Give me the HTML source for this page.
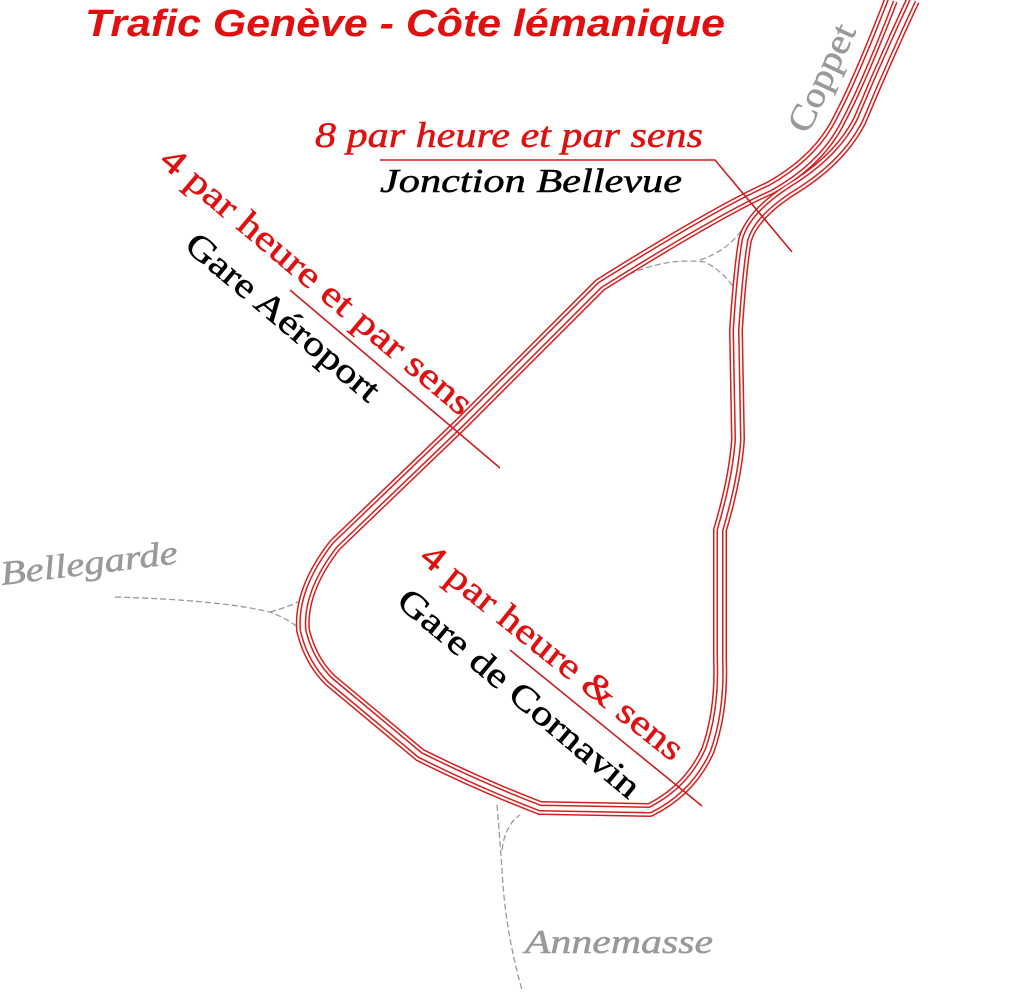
<!DOCTYPE html>
<html><head><meta charset="utf-8"><style>html,body{margin:0;padding:0;background:#fff}svg{display:block}</style></head>
<body>
<svg width="1024" height="993" viewBox="0 0 1024 993" xmlns="http://www.w3.org/2000/svg">
<g fill="none" stroke="#9a9a9a" stroke-width="1.3" stroke-dasharray="6,3">
<path d="M115,597 Q220,600 270,612 Q295,622 302,632"/>
<path d="M270,612 Q295,605 305,598"/>
<path d="M497,805 Q500,840 502,870 Q505,930 522,990"/>
<path d="M502,850 Q505,825 520,815"/>
<path d="M590,296 Q650,255 705,262 Q730,275 740,300"/>
<path d="M700,260 Q730,250 745,225"/>
</g>
<defs>
<path id="loop" d="M891,0 Q860,80 840,118 Q820,160 770,188 Q720,210 600,285 L460,425 L335,545 Q300,590 303,630 Q310,660 330,680 L420,755 Q480,785 540,808 L650,810 Q690,790 708,750 Q722,710 720,660 L720,530 Q735,480 738,440 L736,330 Q740,270 745,240 Q752,215 790,190 Q840,160 860,120 Q885,60 913,0"/>
</defs>
<g fill="none" stroke-linejoin="round">
<use href="#loop" stroke="#d21f1f" stroke-width="14"/>
<use href="#loop" stroke="#fff" stroke-width="11"/>
<use href="#loop" stroke="#d21f1f" stroke-width="7"/>
<use href="#loop" stroke="#fff" stroke-width="4"/>
</g>
<g stroke="#c81e1e" stroke-width="1.6" fill="none">
<path d="M380,160 L715,160 L792,252"/>
<path d="M290,290 L500,468"/>
<path d="M510,650 L702,806"/>
</g>
<g stroke-width="0.5">
<text x="85" y="36" font-family="Liberation Sans, sans-serif" font-size="38" font-style="italic" font-weight="bold" fill="#e01010" textLength="640" lengthAdjust="spacingAndGlyphs">Trafic Genève - Côte lémanique</text>
<text x="315" y="147" font-family="Liberation Serif, serif" font-size="36" font-style="italic" fill="#e01010" stroke="#e01010" textLength="388" lengthAdjust="spacingAndGlyphs">8 par heure et par sens</text>
<text x="380" y="192" font-family="Liberation Serif, serif" font-size="34" font-style="italic" fill="#000" stroke="#000" textLength="302" lengthAdjust="spacingAndGlyphs">Jonction Bellevue</text>
<text transform="translate(158,163) rotate(40)" font-family="Liberation Serif, serif" font-size="36" fill="#e01010" stroke="#e01010" textLength="395" lengthAdjust="spacingAndGlyphs">4 par heure et par sens</text>
<text transform="translate(183,248) rotate(40)" font-family="Liberation Serif, serif" font-size="35" fill="#000" stroke="#000" textLength="242" lengthAdjust="spacingAndGlyphs">Gare Aéroport</text>
<text transform="translate(418,560) rotate(38.5)" font-family="Liberation Serif, serif" font-size="36" fill="#e01010" stroke="#e01010" textLength="325" lengthAdjust="spacingAndGlyphs">4 par heure &amp; sens</text>
<text transform="translate(395,604) rotate(40)" font-family="Liberation Serif, serif" font-size="35" fill="#000" stroke="#000" textLength="305" lengthAdjust="spacingAndGlyphs">Gare de Cornavin</text>
<text transform="translate(2,585) rotate(-7)" font-family="Liberation Serif, serif" font-size="34" font-style="italic" fill="#999" stroke="#999" textLength="178" lengthAdjust="spacingAndGlyphs">Bellegarde</text>
<text x="525" y="953" font-family="Liberation Serif, serif" font-size="34" font-style="italic" fill="#999" stroke="#999" textLength="188" lengthAdjust="spacingAndGlyphs">Annemasse</text>
<text transform="translate(808,135) rotate(-65)" font-family="Liberation Serif, serif" font-size="36" fill="#999" stroke="#999" textLength="115" lengthAdjust="spacingAndGlyphs">Coppet</text>
</g>
</svg>
</body></html>
